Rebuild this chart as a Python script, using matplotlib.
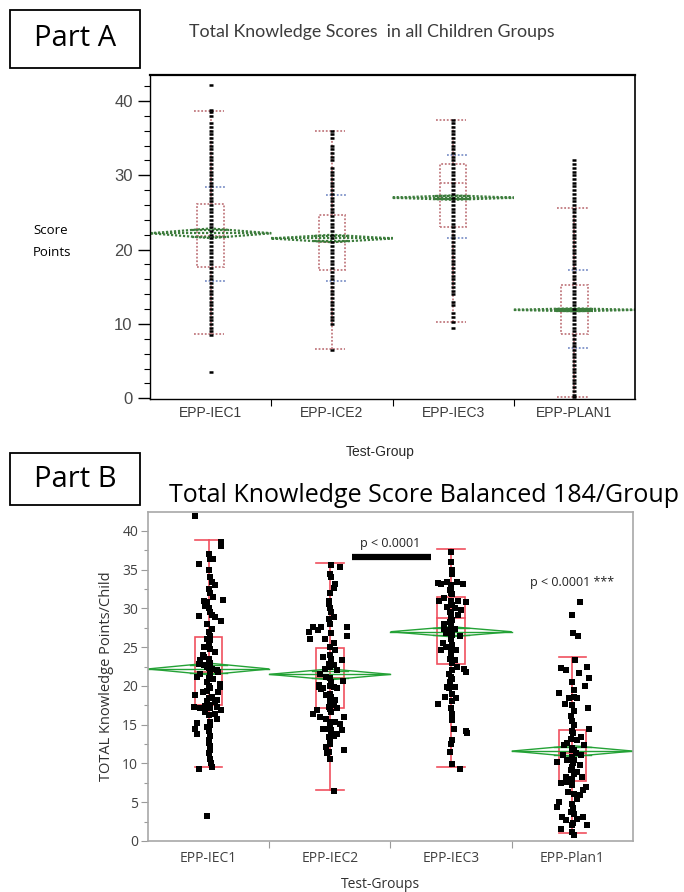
import matplotlib
matplotlib.use('Agg')
import matplotlib.pyplot as plt
from matplotlib.patches import Rectangle, Polygon

# ---------------- data ----------------
groups_a = ['EPP-IEC1', 'EPP-ICE2', 'EPP-IEC3', 'EPP-PLAN1']
groups_b = ['EPP-IEC1', 'EPP-IEC2', 'EPP-IEC3', 'EPP-Plan1']

# Part A summary (quantile box, whiskers, mean diamond, mean +/- sd)
a_q1 = [17.7, 17.2, 23.0, 8.6]
a_med = [21.8, 21.0, 29.0, 12.0]
a_q3 = [26.2, 24.7, 31.5, 15.2]
a_wlo = [8.6, 6.6, 10.3, 0.2]
a_whi = [38.7, 35.9, 37.5, 25.6]
a_mean = [22.2, 21.5, 27.0, 11.9]
a_ci = [0.65, 0.5, 0.3, 0.2]
a_sd_lo = [15.8, 15.8, 21.5, 6.7]
a_sd_hi = [28.4, 27.4, 32.7, 17.2]

# Part A points (score levels seen in each group)
a_pts_iec1 = [3.5, 8.5, 9.0, 9.5, 10.0, 10.5, 11.0, 11.5, 12.0, 12.5, 13.0, 13.5, 14.0,
              14.5, 15.0, 15.5, 16.0, 16.5, 17.0, 17.5, 18.0, 18.5, 19.0, 19.5, 20.0,
              20.5, 21.0, 21.5, 22.0, 22.5, 23.0, 23.5, 24.0, 24.5, 25.0, 25.5, 26.0,
              26.5, 27.0, 27.5, 28.0, 28.5, 29.0, 29.5, 30.0, 30.5, 31.0, 31.5, 32.0,
              32.5, 33.0, 33.5, 34.0, 34.5, 35.0, 35.5, 36.0, 36.5, 37.0, 38.0, 38.5,
              38.8, 42.2]
a_pts_ice2 = [6.5, 10.0, 10.5, 11.0, 11.5, 12.0, 12.5, 13.0, 13.5, 14.0, 14.5, 15.0,
              15.5, 16.0, 16.5, 17.0, 17.5, 18.0, 18.5, 19.0, 19.5, 20.0, 20.5, 21.0,
              21.5, 22.0, 22.5, 23.0, 23.5, 24.0, 24.5, 25.0, 25.5, 26.0, 26.5, 27.0,
              27.5, 28.0, 28.5, 29.0, 29.5, 30.0, 30.5, 31.0, 32.0, 32.5, 33.0, 33.5,
              34.0, 35.0, 35.5, 36.0]
a_pts_iec3 = [9.5, 10.3, 11.0, 11.5, 12.5, 13.0, 14.0, 14.5, 15.0, 15.5, 16.0, 16.5,
              17.0, 17.5, 18.0, 18.5, 19.0, 19.5, 20.0, 20.5, 21.0, 21.5, 22.0, 22.5,
              23.0, 23.5, 24.0, 24.5, 25.0, 25.5, 26.0, 26.5, 27.0, 27.5, 28.0, 28.5,
              29.0, 29.5, 30.0, 30.5, 31.0, 31.5, 32.0, 32.5, 33.0, 33.5, 34.0, 34.5,
              35.0, 35.5, 36.0, 36.5, 37.0, 37.5]
a_pts_plan1 = [0.2, 0.5, 1.0, 1.5, 2.0, 2.5, 3.0, 3.5, 4.0, 4.5, 5.0, 5.5, 6.0, 6.5,
               7.0, 7.5, 8.0, 8.5, 9.0, 9.5, 10.0, 10.5, 11.0, 11.5, 12.0, 12.5, 13.0,
               13.5, 14.0, 14.5, 15.0, 15.5, 16.0, 16.5, 17.0, 17.5, 18.0, 18.5, 19.0,
               19.5, 20.0, 20.5, 21.0, 21.5, 22.0, 22.5, 23.0, 23.5, 24.0, 24.5, 25.0,
               25.5, 26.0, 26.5, 27.0, 27.5, 28.0, 28.5, 29.0, 29.5, 30.0, 30.5, 31.0,
               31.5, 32.0]

# Part B summary
b_q1 = [17.5, 17.1, 22.8, 7.8]
b_med = [21.8, 21.0, 28.8, 11.3]
b_q3 = [26.3, 24.9, 31.5, 14.3]
b_wlo = [9.6, 6.6, 9.6, 1.0]
b_whi = [38.9, 35.9, 37.7, 23.7]
b_mean = [22.2, 21.5, 27.0, 11.6]
b_ci = [0.75, 0.7, 0.65, 0.7]

# Part B points: score and horizontal jitter (in group widths)
b_iec1_y = [41.9, 38.6, 38.0, 35.8, 36.4, 36.4, 33.4, 33.0, 31.0, 30.3, 30.8, 31.5, 31.1,
            29.0, 29.1, 28.9, 28.4, 27.4, 26.1, 25.9, 25.0, 24.4, 24.0, 23.7, 23.3, 22.9,
            22.7, 22.5, 22.2, 22.0, 21.8, 21.6, 21.2, 20.9, 20.3, 19.9, 19.2, 19.4, 19.2,
            18.8, 18.6, 18.2, 17.9, 17.3, 17.1, 17.4, 17.1, 17.3, 16.9, 16.6, 16.4, 15.8,
            15.4, 14.7, 15.2, 14.4, 13.8, 13.6, 13.0, 12.3, 11.3, 10.6, 10.0, 9.6, 9.3, 3.2,
            32.5, 32.0, 30.0, 29.5, 28.0, 27.0, 26.5, 25.5, 24.8, 23.5, 23.0, 22.3, 21.5,
            21.0, 20.5, 20.0, 19.7, 18.5, 18.0, 17.6, 16.2, 15.0, 14.2, 12.7, 11.8, 35.0,
            34.0, 37.0]
b_iec1_dx = [-0.11, 0.10, 0.10, -0.08, 0.01, 0.04, 0.03, 0.05, -0.04, -0.03, -0.01, 0.04,
             0.12, -0.08, 0.03, 0.05, 0.10, 0.03, -0.01, 0.01, -0.04, 0.05, -0.05, -0.04,
             -0.07, -0.08, -0.04, -0.01, 0.03, 0.07, 0.08, -0.07, -0.10, 0.04, 0.09, 0.09,
             0.08, -0.01, -0.05, -0.11, 0.03, 0.07, 0.05, -0.12, -0.07, -0.03, 0.01, 0.07,
             0.10, -0.03, 0.05, 0.07, 0.01, -0.01, -0.10, -0.11, -0.10, 0.01, 0.0, 0.01,
             0.0, 0.01, 0.02, 0.03, -0.08, -0.01,
             0.0, 0.01, 0.0, 0.01, -0.01, 0.0, 0.01, 0.0, 0.01, 0.0, 0.01, 0.0, 0.01,
             0.0, -0.01, 0.0, 0.01, 0.0, -0.01, 0.0, 0.0, 0.01, 0.0, 0.0, 0.01, 0.0,
             0.01, 0.0]

b_iec2_y = [35.6, 35.4, 33.2, 32.6, 31.0, 30.6, 28.9, 28.7, 27.6, 27.2, 27.6, 27.0, 26.1,
            27.6, 26.5, 26.1, 25.5, 25.0, 24.6, 23.3, 23.7, 22.9, 22.2, 22.7, 22.0, 21.6,
            21.2, 20.7, 19.9, 19.7, 19.9, 19.7, 18.8, 18.6, 18.2, 17.7, 17.3, 17.5, 17.1,
            16.9, 16.4, 16.0, 16.0, 15.8, 15.4, 15.4, 15.1, 14.5, 14.5, 14.3, 13.8, 14.3,
            13.6, 13.4, 12.1, 11.5, 10.6, 11.3, 11.7, 6.5, 20.1, 19.6,
            34.5, 34.0, 32.0, 30.0, 29.5, 28.0, 26.8, 24.0, 23.5, 22.5, 21.0, 20.5, 20.0,
            19.0, 18.4, 17.9, 17.0, 16.6, 15.0, 14.0, 13.0, 12.5]
b_iec2_dx = [0.01, 0.08, 0.04, 0.03, -0.01, -0.01, 0.03, -0.01, -0.14, -0.10, -0.07, -0.17,
             -0.16, 0.14, 0.14, -0.04, 0.03, 0.0, 0.04, 0.10, -0.06, -0.01, -0.04, 0.03,
             0.06, -0.08, -0.03, 0.11, -0.09, -0.06, 0.03, 0.06, -0.03, 0.01, 0.04, 0.0,
             -0.01, 0.03, 0.06, -0.11, -0.14, -0.08, 0.12, -0.03, 0.0, 0.04, 0.08, -0.06,
             -0.04, 0.01, 0.06, 0.10, 0.03, -0.01, -0.03, -0.01, 0.0, -0.02, 0.12, 0.03,
             -0.09, -0.07,
             0.0, 0.01, 0.0, 0.0, 0.01, 0.0, 0.01, 0.0, 0.01, 0.0, 0.0, 0.01, 0.0, 0.0,
             0.0, 0.01, 0.0, 0.01, 0.0, 0.01, 0.0, 0.0]

b_iec3_y = [37.3, 34.5, 33.3, 33.2, 33.4, 33.0, 33.4, 33.2, 32.4, 31.9, 31.3, 31.0, 31.0,
            30.8, 31.0, 30.2, 30.0, 29.8, 29.3, 29.1, 28.3, 28.0, 27.4, 27.2, 27.4, 26.8,
            26.6, 26.4, 25.5, 25.0, 24.8, 24.6, 24.2, 24.6, 23.5, 23.3, 22.5, 22.0, 21.8,
            21.6, 22.2, 20.9, 20.5, 19.9, 19.9, 19.7, 19.0, 18.6, 17.7, 18.4, 16.4, 15.6,
            14.5, 14.2, 13.9, 11.5, 9.9, 9.3,
            36.0, 35.0, 32.8, 32.0, 30.5, 29.6, 28.7, 28.5, 27.8, 26.0, 25.3, 23.8, 23.0,
            21.2, 18.0, 17.2, 13.0, 12.5]
b_iec3_dx = [0.0, 0.01, -0.11, -0.08, -0.03, 0.0, 0.05, 0.10, -0.01, 0.01, -0.06, 0.0,
             0.06, 0.12, -0.10, -0.03, 0.03, 0.08, 0.0, 0.06, -0.01, -0.06, -0.06, -0.01,
             0.03, -0.04, 0.01, 0.07, -0.07, -0.04, 0.01, 0.04, 0.0, -0.08, -0.01, 0.03,
             0.05, 0.01, 0.12, -0.02, 0.11, 0.01, -0.01, 0.03, -0.03, -0.02, 0.01, -0.05,
             -0.11, 0.04, 0.01, 0.01, 0.02, 0.12, 0.13, -0.01, 0.01, 0.07,
             0.0, 0.01, 0.0, 0.0, 0.01, -0.01, 0.0, 0.01, 0.0, 0.0, 0.01, 0.0, 0.01,
             0.0, 0.01, 0.0, 0.01, 0.0]

b_plan1_y = [30.8, 29.1, 26.8, 26.5, 23.4, 22.3, 22.1, 22.4, 21.7, 21.0, 20.0, 19.1, 18.4,
             17.7, 18.6, 18.5, 16.1, 17.1, 14.5, 13.9, 13.2, 12.4, 12.6, 13.0, 13.4, 12.4,
             11.7, 11.3, 11.1, 11.1, 10.2, 10.4, 10.0, 9.8, 9.1, 8.9, 8.3, 8.3, 7.5, 7.6,
             7.0, 6.6, 6.3, 5.9, 5.4, 5.0, 4.4, 4.2, 3.8, 3.1, 2.7, 2.8, 3.1, 2.3, 1.6, 2.1,
             0.8,
             20.5, 19.5, 17.5, 16.8, 15.5, 15.0, 14.2, 12.0, 11.8, 10.8, 10.5, 9.5, 8.6,
             8.0, 7.2, 6.0, 4.8, 3.5, 2.0, 1.2]
b_plan1_dx = [0.064, -0.006, 0.008, 0.05, 0.02, -0.09, -0.055, 0.12, 0.055, 0.14, 0.10,
              -0.11, -0.03, -0.063, 0.014, 0.035, -0.014, 0.13, 0.14, 0.008, -0.014,
              -0.069, -0.041, 0.036, 0.069, 0.096, 0.0, 0.028, -0.074, 0.069, -0.124,
              -0.041, 0.008, 0.064, -0.014, 0.041, -0.055, 0.083, -0.09, -0.041, 0.11,
              0.09, -0.036, 0.064, 0.041, -0.11, -0.124, 0.008, -0.008, -0.082, -0.055,
              0.041, 0.09, 0.008, -0.096, 0.124, 0.014,
              0.0, 0.01, 0.0, 0.01, 0.0, 0.01, 0.0, 0.0, 0.01, 0.0, 0.01, 0.0, 0.01,
              0.0, 0.0, 0.01, 0.0, 0.01, 0.0, 0.0]

a_points = [a_pts_iec1, a_pts_ice2, a_pts_iec3, a_pts_plan1]
b_points = [(b_iec1_y, b_iec1_dx), (b_iec2_y, b_iec2_dx),
            (b_iec3_y, b_iec3_dx), (b_plan1_y, b_plan1_dx)]

# ---------------- figure ----------------
fig = plt.figure(figsize=(6.84, 8.92), dpi=100)
W, H = 684, 892


def px_axes(l, t, r, b):
    return fig.add_axes([l / W, 1 - b / H, (r - l) / W, (b - t) / H])


def diamond(ax, i, mean, h, color, lw, ls):
    poly = Polygon([(i - 0.5, mean), (i, mean + h), (i + 0.5, mean), (i, mean - h)],
                   closed=True, fill=False, edgecolor=color, lw=lw, ls=ls, zorder=2)
    ax.add_patch(poly)
    ax.plot([i - 0.5, i + 0.5], [mean, mean], color=color, lw=lw, ls=ls, zorder=2)
    ax.plot([i - 0.15, i + 0.15], [mean + 0.7 * h] * 2, color=color, lw=lw, ls=ls, zorder=2)
    ax.plot([i - 0.15, i + 0.15], [mean - 0.7 * h] * 2, color=color, lw=lw, ls=ls, zorder=2)


# Part labels
for y0, y1, txt in [(10, 68, 'Part A'), (453, 505, 'Part B')]:
    fig.patches.append(Rectangle((10 / W, 1 - y1 / H), 130 / W, (y1 - y0) / H,
                                 transform=fig.transFigure, fill=False,
                                 edgecolor='black', lw=1.3))
    fig.text(75 / W, 1 - (y0 + y1) / 2 / H, txt, ha='center', va='center',
             fontsize=21, family='Open Sans')

# ---------------- Part A ----------------
ax = px_axes(150, 75, 635, 399)
red_a = '#c27b80'
for i in range(4):
    ax.add_patch(Rectangle((i - 0.11, a_q1[i]), 0.22, a_q3[i] - a_q1[i], fill=False,
                           edgecolor=red_a, lw=1.3, ls=(0, (1, 1)), zorder=2))
    ax.plot([i - 0.11, i + 0.11], [a_med[i]] * 2, color=red_a, lw=1.3, ls=(0, (1, 1)))
    ax.plot([i, i], [a_wlo[i], a_q1[i]], color=red_a, lw=1.3, ls=(0, (1, 1)))
    ax.plot([i, i], [a_q3[i], a_whi[i]], color=red_a, lw=1.3, ls=(0, (1, 1)))
    for w in (a_wlo[i], a_whi[i]):
        ax.plot([i - 0.14, i + 0.11], [w, w], color=red_a, lw=1.3, ls=(0, (1, 1)))
    for s in (a_sd_lo[i], a_sd_hi[i]):
        ax.plot([i - 0.05, i + 0.12], [s, s], color='#7f93c9', lw=1.3, ls=(0, (1, 1)),
                zorder=2)
    diamond(ax, i, a_mean[i], a_ci[i], '#3d7d3d', 1.6, (0, (1, 0.8)))
    ax.plot([i] * len(a_points[i]), a_points[i], '_', color='black', ms=3.2, mew=1.8,
            zorder=3)

ax.set_xlim(-0.5, 3.5)
ax.set_ylim(-0.1, 43.5)
ax.set_yticks([0, 10, 20, 30, 40])
ax.set_yticks(range(0, 44, 2), minor=True)
ax.set_xticks(range(4))
ax.set_xticklabels(groups_a)
ax.set_xticks([0.5, 1.5, 2.5], minor=True)
ax.tick_params(axis='y', which='major', length=9, width=1, labelsize=12,
               labelcolor='#4a4a4a')
ax.tick_params(axis='y', which='minor', length=4, width=0.8)
ax.tick_params(axis='x', which='major', length=0, pad=5, labelsize=10,
               labelcolor='#3a3a3a')
ax.tick_params(axis='x', which='minor', length=5, width=0.8)
for lab in ax.get_xticklabels() + ax.get_yticklabels():
    lab.set_family('Liberation Sans')
ax.spines['top'].set_linewidth(1.6)
ax.spines['left'].set_linewidth(1.0)
ax.spines['bottom'].set_linewidth(1.0)
ax.spines['right'].set_linestyle((0, (1, 1)))
ax.spines['right'].set_linewidth(1.2)

fig.text(372 / W, 1 - 32 / H, 'Total Knowledge Scores  in all Children Groups',
         ha='center', va='center', fontsize=12.8, color='#3c3c3c', family='Lato')
fig.text(33 / W, 1 - 241 / H, 'Score\nPoints', ha='left', va='center', fontsize=9.5,
         linespacing=1.9, family='Open Sans')
fig.text(380 / W, 1 - 452 / H, 'Test-Group', ha='center', va='center', fontsize=10,
         family='Liberation Sans', color='#2a2a2a')

# ---------------- Part B ----------------
bx = px_axes(148, 512, 633, 841)
red_b = '#f0505f'
green_b = '#24a236'
for i in range(4):
    ys, dxs = b_points[i]
    bx.add_patch(Rectangle((i - 0.114, b_q1[i]), 0.228, b_q3[i] - b_q1[i], fill=False,
                           edgecolor=red_b, lw=1.2, zorder=2))
    bx.plot([i - 0.114, i + 0.114], [b_med[i]] * 2, color=red_b, lw=1.2, zorder=2)
    bx.plot([i, i], [b_wlo[i], b_whi[i]], color=red_b, lw=1.2, zorder=2)
    for w in (b_wlo[i], b_whi[i]):
        bx.plot([i - 0.114, i + 0.114], [w, w], color=red_b, lw=1.2, zorder=2)
    diamond(bx, i, b_mean[i], b_ci[i], green_b, 1.0, '-')
    bx.plot([i + d for d in dxs], ys, 's', color='black', ms=3.8, mew=0, zorder=3)

bx.set_xlim(-0.5, 3.5)
bx.set_ylim(0, 42.45)
bx.set_yticks(range(0, 41, 5))
bx.set_yticks([2.5 + 5 * k for k in range(8)], minor=True)
bx.set_xticks(range(4))
bx.set_xticklabels(groups_b)
bx.set_xticks([0.5, 1.5, 2.5], minor=True)
bx.tick_params(axis='y', which='major', length=5, width=0.8, color='#9a9a9a',
               labelsize=10, labelcolor='#404040', pad=2)
bx.tick_params(axis='y', which='minor', length=3, width=0.8, color='#9a9a9a')
bx.tick_params(axis='x', which='major', length=0, pad=7, labelsize=10,
               labelcolor='#404040')
bx.tick_params(axis='x', which='minor', length=5, width=0.8, color='#9a9a9a')
for lab in bx.get_xticklabels() + bx.get_yticklabels():
    lab.set_family('Open Sans')
for sp in bx.spines.values():
    sp.set_color('#a8a8a8')
    sp.set_linewidth(1.2)

bx.plot([1.18, 1.83], [36.6, 36.6], color='black', lw=4.5, solid_capstyle='butt')
bx.text(1.5, 38.4, 'p < 0.0001', ha='center', va='center', fontsize=9,
        family='Open Sans', color='#222222')
bx.text(3.0, 33.3, 'p < 0.0001 ***', ha='center', va='center', fontsize=9,
        family='Open Sans', color='#222222')
bx.set_ylabel('TOTAL Knowledge Points/Child', fontsize=10.5, family='Open Sans',
              color='#303030', labelpad=6)

fig.text(424 / W, 1 - 495 / H, 'Total Knowledge Score Balanced 184/Group',
         ha='center', va='center', fontsize=18, family='Open Sans')
fig.text(380 / W, 1 - 884 / H, 'Test-Groups', ha='center', va='center', fontsize=10,
         family='Open Sans', color='#303030')

fig.savefig('out.png', dpi=100)
